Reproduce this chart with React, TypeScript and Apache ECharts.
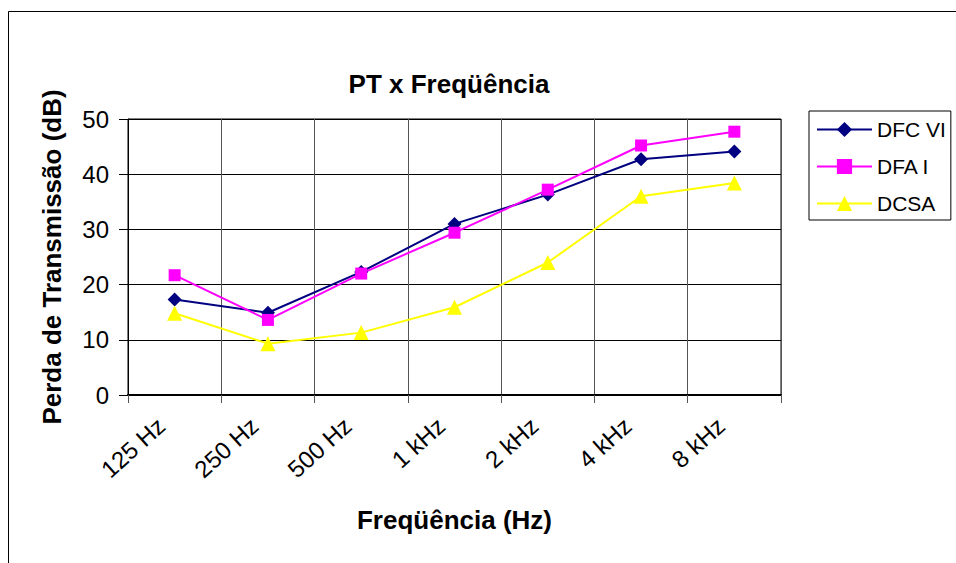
import React, { useEffect, useRef } from "react";
import * as echarts from "echarts";

const categories = ["125 Hz", "250 Hz", "500 Hz", "1 kHz", "2 kHz", "4 kHz", "8 kHz"];
const dfcVI = [17.3, 14.9, 22.3, 31.0, 36.3, 42.7, 44.1];
const dfaI = [21.7, 13.6, 22.0, 29.4, 37.2, 45.2, 47.7];
const dcsa = [14.8, 9.3, 11.3, 15.9, 24.0, 36.0, 38.4];
const yTicks = { min: 0, max: 50, interval: 10 };

const FONT = "'Liberation Sans', Arial, sans-serif";

export default function App() {
  const ref = useRef<HTMLDivElement>(null);
  useEffect(() => {
    if (!ref.current) return;
    const chart = echarts.init(ref.current, undefined, { renderer: "svg" });
    chart.setOption({
      animation: false,
      backgroundColor: "#fff",
      textStyle: { fontFamily: FONT, color: "#000" },
      graphic: [
        {
          type: "rect",
          shape: { x: 8.5, y: 11.5, width: 1000, height: 1000 },
          style: { fill: "none", stroke: "#000", lineWidth: 1 },
          silent: true,
        },
        {
          type: "text",
          x: 449,
          y: 84,
          style: {
            text: "PT x Freqüência",
            font: `bold 26px ${FONT}`,
            fill: "#000",
            textAlign: "center",
            textVerticalAlign: "middle",
          },
        },
      ],
      grid: {
        left: 128,
        top: 119,
        right: 175,
        bottom: 168,
        show: true,
        borderColor: "#000",
        borderWidth: 1,
      },
      legend: {
        orient: "vertical",
        left: 809,
        top: 111,
        padding: [8, 5, 6, 7],
        itemWidth: 55,
        itemHeight: 19,
        itemGap: 16,
        borderColor: "#000",
        borderWidth: 1,
        backgroundColor: "#fff",
        textStyle: { fontFamily: FONT, fontSize: 21, color: "#000" },
        data: ["DFC VI", "DFA I", "DCSA"],
      },
      xAxis: {
        type: "category",
        data: categories,
        boundaryGap: true,
        name: "Freqüência (Hz)",
        nameLocation: "middle",
        nameGap: 112,
        nameTextStyle: { fontFamily: FONT, fontSize: 26, fontWeight: "bold", color: "#000" },
        axisLine: { show: true, lineStyle: { color: "#000", width: 2 } },
        axisTick: { show: true, alignWithLabel: false, length: 8, lineStyle: { color: "#555" } },
        axisLabel: {
          rotate: 42,
          margin: 15,
          fontSize: 24,
          color: "#000",
          fontFamily: FONT,
          padding: [0, 18, 0, 0],
        },
        splitLine: { show: true, lineStyle: { color: "#555", width: 1 } },
      },
      yAxis: {
        type: "value",
        min: yTicks.min,
        max: yTicks.max,
        interval: yTicks.interval,
        name: "Perda de Transmissão (dB)",
        nameLocation: "middle",
        nameGap: 63,
        nameTextStyle: { fontFamily: FONT, fontSize: 26, fontWeight: "bold", color: "#000" },
        axisLine: { show: true, lineStyle: { color: "#000", width: 1 } },
        axisTick: { show: true, length: 9, lineStyle: { color: "#000" } },
        axisLabel: { margin: 19, fontSize: 24, color: "#000", fontFamily: FONT },
        splitLine: { show: true, lineStyle: { color: "#000", width: 1 } },
      },
      series: [
        {
          name: "DFC VI",
          type: "line",
          data: dfcVI,
          symbol: "diamond",
          symbolSize: 14,
          color: "#000080",
          lineStyle: { color: "#000080", width: 2 },
          itemStyle: { color: "#000080" },
        },
        {
          name: "DFA I",
          type: "line",
          data: dfaI,
          symbol: "rect",
          symbolSize: 12,
          color: "#FF00FF",
          lineStyle: { color: "#FF00FF", width: 2 },
          itemStyle: { color: "#FF00FF" },
        },
        {
          name: "DCSA",
          type: "line",
          data: dcsa,
          symbol: "triangle",
          symbolSize: 15,
          color: "#FFFF00",
          lineStyle: { color: "#FFFF00", width: 2 },
          itemStyle: { color: "#FFFF00" },
        },
      ],
    });
    return () => chart.dispose();
  }, []);
  return (
    <div
      ref={ref}
      style={{ position: "absolute", left: 0, top: 0, width: 956, height: 563 }}
    />
  );
}
